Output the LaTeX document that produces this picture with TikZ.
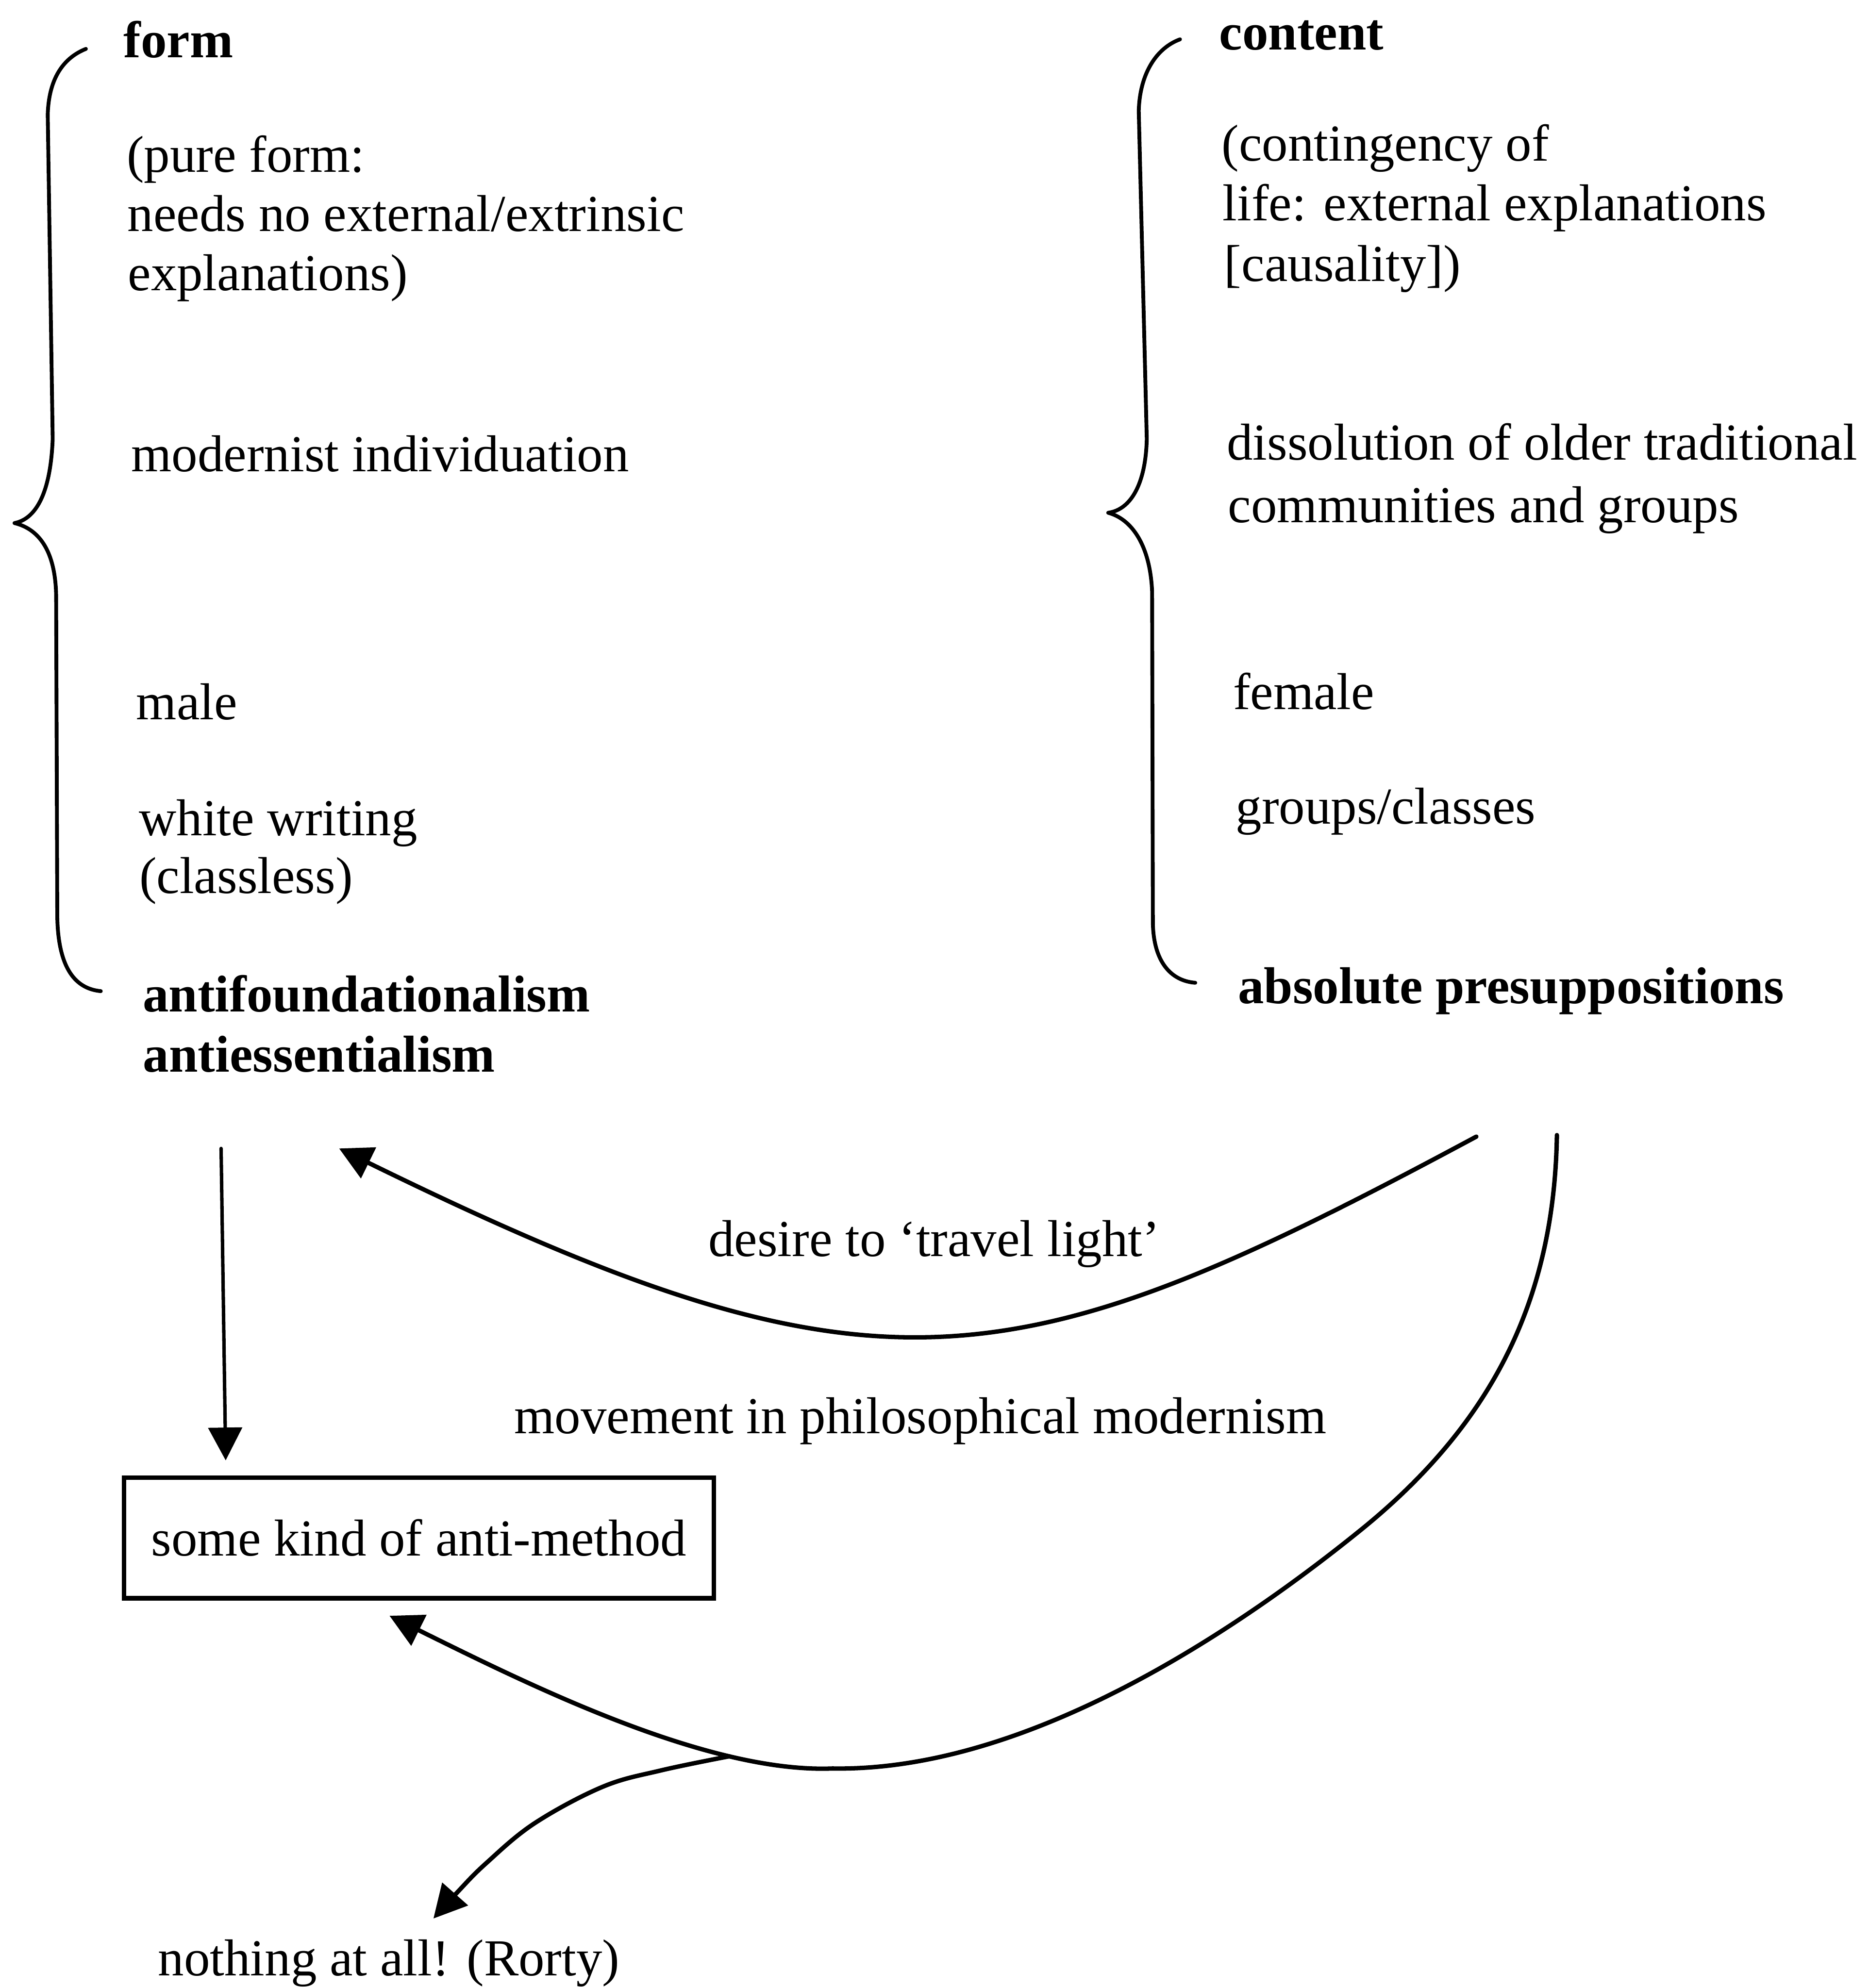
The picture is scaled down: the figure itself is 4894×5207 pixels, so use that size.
\documentclass[tikz,border=0pt]{standalone}
\usepackage{fontspec}
\setmainfont{Liberation Serif}
\usetikzlibrary{arrows.meta}
\begin{document}
\begin{tikzpicture}[x=0.1pt,y=-0.1pt,
  lbl/.style={anchor=base west, inner sep=0pt, font=\fontsize{13.6}{15.5}\selectfont},
  lblbold/.style={lbl, font=\fontsize{13.6}{15.5}\selectfont\bfseries},
  bracestroke/.style={line width=1pt, line cap=round, line join=round},
  flow/.style={line width=1.15pt, line cap=round, -{Triangle[length=8.6pt,width=8.8pt]}},
  framebox/.style={draw, line width=1.2pt, inner sep=0pt, minimum width=154.5pt,
    minimum height=31.6pt, font=\fontsize{13.6}{15.5}\selectfont}
  ]
\useasboundingbox (0,0) rectangle (4894,5207);

% ---- left column: form
\node[lblbold] (form)   at (322,150)  {form};
\node[lbl]     (pureA)  at (330,451)  {(pure form:};
\node[lbl]     (pureB)  at (332,606)  {needs no external/extrinsic};
\node[lbl]     (pureC)  at (333,761)  {explanations)};
\node[lbl]     (indiv)  at (342,1235) {modernist individuation};
\node[lbl]     (male)   at (355,1885) {male};
\node[lbl]     (whiteA) at (362,2188) {white writing};
\node[lbl]     (whiteB) at (363,2340) {(classless)};
\node[lblbold] (antif)  at (372,2650) {antifoundationalism};
\node[lblbold] (antie)  at (373,2808) {antiessentialism};

% ---- right column: content
\node[lblbold] (content) at (3191,130)  {content};
\node[lbl]     (contA)   at (3197,422)  {(contingency of};
\node[lbl]     (contB)   at (3200,578)  {life: external explanations};
\node[lbl]     (contC)   at (3204,737)  {[causality])};
\node[lbl]     (dissA)   at (3211,1205) {dissolution of older traditional};
\node[lbl]     (dissB)   at (3214,1368) {communities and groups};
\node[lbl]     (female)  at (3227,1858) {female};
\node[lbl]     (groups)  at (3234,2158) {groups/classes};
\node[lblbold] (abspre)  at (3240,2628) {absolute presuppositions};

% ---- braces
\draw[bracestroke] (225,128) .. controls (170,150) and (128,200) .. (125,300)
  -- (138,1150) .. controls (132,1300) and (90,1360) .. (38,1370)
  .. controls (100,1385) and (145,1440) .. (147,1560)
  -- (150,2400) .. controls (152,2540) and (200,2590) .. (264,2596);
\draw[bracestroke] (3090,103) .. controls (3030,125) and (2985,190) .. (2982,290)
  -- (3003,1150) .. controls (3000,1270) and (2960,1335) .. (2902,1343)
  .. controls (2965,1360) and (3012,1430) .. (3017,1550)
  -- (3019,2420) .. controls (3022,2530) and (3075,2570) .. (3130,2574);

% ---- lower part
\node[lbl] (desire)   at (1853,3290) {desire to ‘travel light’};
\node[lbl] (movement) at (1345,3755) {movement in philosophical modernism};
\node[framebox] (anti) at (1097,4028) {some kind of anti-method};
\node[lbl] (rorty)    at (412,5175)  {nothing at all! (Rorty)};

\coordinate (vstart) at (579,3008);
\coordinate (vend)   at (591,3825);
\coordinate (dstart) at (3866,2977);
\coordinate (dend)   at (888,3008);
\coordinate (mstart) at (4077,2973);
\coordinate (mbend)  at (3560,4010);
\coordinate (mlow)   at (2180,4632);
\coordinate (junct)  at (1910,4600);
\coordinate (mend)   at (1020,4232);
\coordinate (rend)   at (1135,5025);

% form leads to the anti-method
\draw[flow, line width=0.9pt] (vstart) -- (vend);
% desire to travel light
\draw[flow] (dstart) .. controls (2650,3630) and (2300,3700) .. (dend);
% movement in philosophical modernism
\draw[flow] (mstart) .. controls (4070,3400) and (3911,3727) .. (mbend)
  .. controls (3170,4325) and (2650,4640) .. (mlow)
  .. controls (1850,4645) and (1380,4410) .. (mend);
% branch to nothing at all
\draw[flow] plot[smooth, tension=0.6] coordinates {(junct) (1731,4637) (1578,4680)
  (1399,4776) (1271,4882) (1195,4959) (rend)};
\end{tikzpicture}
\end{document}
